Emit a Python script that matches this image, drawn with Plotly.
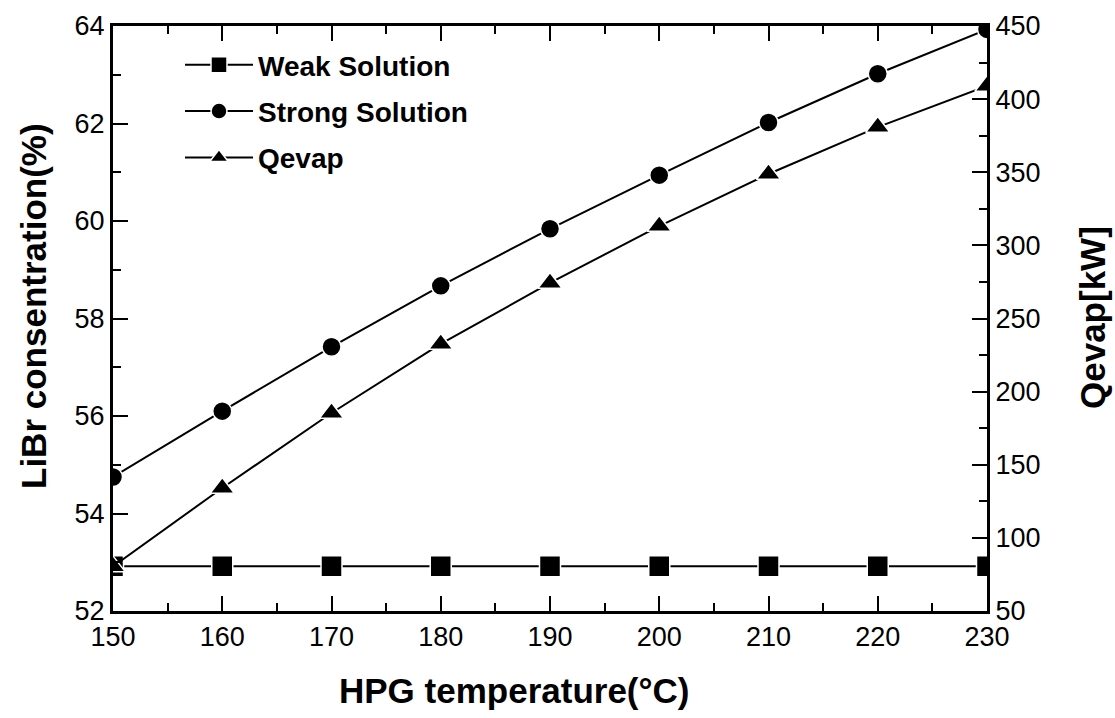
import plotly.graph_objects as go

temps = [150, 160, 170, 180, 190, 200, 210, 220, 230]
weak = [52.92, 52.92, 52.92, 52.92, 52.92, 52.92, 52.92, 52.92, 52.92]
strong = [54.75, 56.10, 57.42, 58.67, 59.84, 60.94, 62.02, 63.02, 63.93]
qevap = [80.5, 134.1, 185.4, 232.6, 274.3, 313.2, 348.8, 380.9, 409.0]

x_title = "HPG temperature(°C)"
y_title = "LiBr consentration(%)"
y2_title = "Qevap[kW]"

FONT = "Liberation Sans, Arial, sans-serif"

W, H = 1115, 718
L, R, T, B = 113, 128, 26, 107
PW, PH = W - L - R, H - T - B

def px_x(p):
    return (p - L) / PW

def px_y(p):
    return (H - B - p) / PH

fig = go.Figure()
common_line = dict(color="black", width=2)
mk_line = dict(color="white", width=1.5)

fig.add_trace(go.Scatter(x=temps, y=weak, name="<b>Weak Solution</b>", mode="lines+markers",
                         line=common_line, legendgroup="a",
                         marker=dict(symbol="square", size=21, color="black", line=mk_line)))
fig.add_trace(go.Scatter(x=temps, y=strong, name="<b>Strong Solution</b>", mode="lines+markers",
                         line=common_line, legendgroup="b",
                         marker=dict(symbol="circle", size=19, color="black", line=mk_line)))
fig.add_trace(go.Scatter(x=temps, y=qevap, name="<b>Qevap</b>", mode="lines+markers", yaxis="y2",
                         line=common_line, legendgroup="c",
                         marker=dict(symbol="triangle-up", size=21, color="black", line=mk_line)))

title_font = dict(family=FONT, size=35, color="black")

fig.update_layout(
    width=W, height=H,
    margin=dict(l=L, r=R, t=T, b=B),
    plot_bgcolor="white", paper_bgcolor="white",
    font=dict(family=FONT, size=27, color="black"),
    showlegend=True,
    legend=dict(x=px_x(180), y=px_y(40), xanchor="left", yanchor="top",
                font=dict(family=FONT, size=28, color="black"),
                bgcolor="rgba(0,0,0,0)", tracegroupgap=7, itemwidth=68),
    xaxis=dict(
        range=[150, 230], dtick=10, tick0=150,
        showline=True, linecolor="black", linewidth=3, mirror="ticks",
        ticks="inside", ticklen=15, tickwidth=2, tickcolor="black",
        minor=dict(dtick=5, ticks="inside", ticklen=8, tickwidth=2, tickcolor="black"),
        showgrid=False, zeroline=False,
    ),
    yaxis=dict(
        range=[52, 64], dtick=2, tick0=52,
        showline=True, linecolor="black", linewidth=3,
        ticks="inside", ticklen=15, tickwidth=2, tickcolor="black",
        minor=dict(dtick=1, ticks="inside", ticklen=8, tickwidth=2, tickcolor="black"),
        showgrid=False, zeroline=False,
    ),
    yaxis2=dict(
        range=[50, 450], dtick=50, tick0=50, overlaying="y", side="right",
        showline=True, linecolor="black", linewidth=3,
        ticks="inside", ticklen=15, tickwidth=2, tickcolor="black",
        minor=dict(dtick=25, ticks="inside", ticklen=8, tickwidth=2, tickcolor="black"),
        showgrid=False, zeroline=False,
    ),
    annotations=[
        dict(text="<b>%s</b>" % x_title, xref="paper", yref="paper",
             x=px_x(514), y=px_y(690), xanchor="center", yanchor="middle",
             showarrow=False, font=title_font),
        dict(text="<b>%s</b>" % y_title, xref="paper", yref="paper", textangle=-90,
             x=px_x(33), y=px_y(306), xanchor="center", yanchor="middle",
             showarrow=False, font=title_font),
        dict(text="<b>%s</b>" % y2_title, xref="paper", yref="paper", textangle=-90,
             x=px_x(1092), y=px_y(318), xanchor="center", yanchor="middle",
             showarrow=False, font=title_font),
    ],
)

fig.write_html("out.html")
